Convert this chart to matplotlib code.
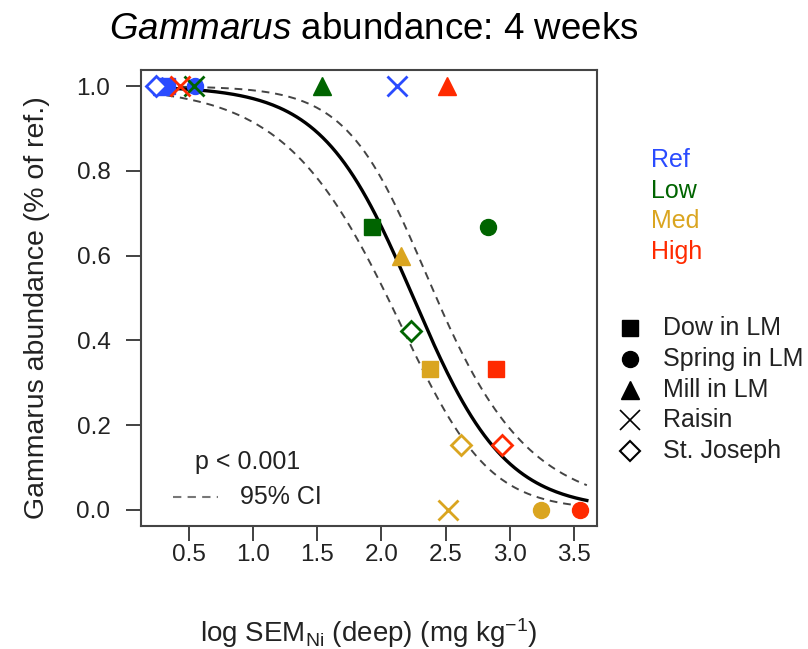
import numpy as np
import matplotlib
matplotlib.use('Agg')
import matplotlib.pyplot as plt
from matplotlib.lines import Line2D

plt.rcParams['font.family'] = ['Liberation Sans', 'DejaVu Sans']
plt.rcParams['mathtext.fontset'] = 'custom'
plt.rcParams['mathtext.rm'] = 'Liberation Sans'
plt.rcParams['mathtext.it'] = 'Liberation Sans:italic'

# site observations: log SEM Ni (deep) vs Gammarus abundance (fraction of reference)
sites = ['Dow in LM', 'Spring in LM', 'Mill in LM', 'Raisin', 'St. Joseph']
levels = ['Ref', 'Low', 'Med', 'High']
level_colors = ['#2a4bff', '#006400', '#daa520', '#ff2a00']

ref_x = [0.33, 0.55, 0.29, 2.12, 0.24]
ref_y = [1.0, 1.0, 1.0, 1.0, 1.0]
low_x = [1.93, 2.83, 1.54, 0.54, 2.23]
low_y = [0.667, 0.667, 1.0, 1.0, 0.423]
med_x = [2.38, 3.24, 2.15, 2.52, 2.62]
med_y = [0.333, 0.0, 0.6, 0.0, 0.154]
high_x = [2.89, 3.55, 2.51, 0.43, 2.94]
high_y = [0.333, 0.0, 1.0, 1.0, 0.154]

# logistic fit and link-scale CI half width
b0, b1 = 6.3, -2.8
ci_a, ci_c, ci_xc = 0.5, 0.72, 2.4
x_min, x_max = 0.22, 3.6

site_markers = ['s', 'o', '^', 'x', 'D']
marker_sizes = [11.5, 11.5, 13, 14, 10.5]

fig = plt.figure(figsize=(8.08, 6.49), dpi=100)
ax = fig.add_axes([0.1745, 0.1895, 0.5645, 0.7025])

xs = np.linspace(x_min, x_max, 200)
eta = b0 + b1 * xs
half = ci_a * np.sqrt(1 + (ci_c / ci_a) ** 2 * (xs - ci_xc) ** 2)
fit = 1 / (1 + np.exp(-eta))
upper = 1 / (1 + np.exp(-(eta + half)))
lower = 1 / (1 + np.exp(-(eta - half)))

ax.plot(xs, upper, ls=(0, (4, 3)), color='#444444', lw=1.4, zorder=1)
ax.plot(xs, lower, ls=(0, (4, 3)), color='#444444', lw=1.4, zorder=1)
ax.plot(xs, fit, color='black', lw=2.4, zorder=2)

groups = [(ref_x, ref_y), (low_x, low_y), (med_x, med_y), (high_x, high_y)]
for (gx, gy), col in zip(groups, level_colors):
    for xi, yi, m, ms in zip(gx, gy, site_markers, marker_sizes):
        if m == 'D':
            ax.plot(xi, yi, marker=m, ms=ms, mfc='white', mec=col, mew=2,
                    ls='none', zorder=3)
        elif m == 'x':
            ax.plot(xi, yi, marker=m, ms=ms, color=col, mew=2, ls='none',
                    zorder=3)
        else:
            ax.plot(xi, yi, marker=m, ms=ms, color=col, ls='none', zorder=3)

ax.set_xlim(0.127, 3.68)
ax.set_ylim(-0.038, 1.038)
ax.set_xticks([0.5, 1.0, 1.5, 2.0, 2.5, 3.0, 3.5])
ax.set_yticks([0.0, 0.2, 0.4, 0.6, 0.8, 1.0])
ax.set_xticklabels(['0.5', '1.0', '1.5', '2.0', '2.5', '3.0', '3.5'])
ax.set_yticklabels(['0.0', '0.2', '0.4', '0.6', '0.8', '1.0'])
ax.tick_params(length=11, width=1.3, color='#333333', labelsize=17.5,
               labelcolor='#222222')
ax.tick_params(axis='x', pad=2)
ax.tick_params(axis='y', pad=11)
for sp in ax.spines.values():
    sp.set_color('#444444')
    sp.set_linewidth(1.5)

ax.set_xlabel(r'log SEM$_{\mathrm{Ni}}$ (deep) (mg kg$^{-1}$)', fontsize=20,
              labelpad=36, color='#222222')
ax.set_ylabel('Gammarus abundance (% of ref.)', fontsize=20.5, labelpad=17,
              color='#222222')
ax.yaxis.set_label_coords(-0.2, 0.48)
fig.text(0.463, 0.955, r'$\mathit{Gammarus}$ abundance: 4 weeks', fontsize=26.5,
         ha='center', va='center')

# p value and CI key inside the panel
ax.text(0.118, 0.140, 'p < 0.001', transform=ax.transAxes, fontsize=18,
        va='center', color='#222222')
ax.add_line(Line2D([0.07, 0.168], [0.064, 0.064], transform=ax.transAxes,
                   ls=(0, (4, 3)), color='#777777', lw=1.5))
ax.text(0.217, 0.064, '95% CI', transform=ax.transAxes, fontsize=18,
        va='center', color='#222222')

# colour key for contamination level
for i, (lab, col) in enumerate(zip(levels, level_colors)):
    fig.text(0.806, 1 - (160 + 30.5 * i) / 649, lab, color=col, fontsize=18,
             va='center')

# marker key for site
for i, (lab, m, ms) in enumerate(zip(sites, site_markers, marker_sizes)):
    yy = 1 - (328 + 30.8 * i) / 649
    if m == 'D':
        fig.add_artist(Line2D([0.78], [yy], marker=m, ms=ms, mfc='white',
                              mec='black', mew=1.5, ls='none'))
    elif m == 'x':
        fig.add_artist(Line2D([0.78], [yy], marker=m, ms=ms, color='black',
                              mew=1.2, ls='none'))
    else:
        fig.add_artist(Line2D([0.78], [yy], marker=m, ms=ms, color='black',
                              ls='none'))
    fig.text(0.82, yy, lab, fontsize=18, va='center', color='#222222')

fig.savefig('out.png', dpi=100)
